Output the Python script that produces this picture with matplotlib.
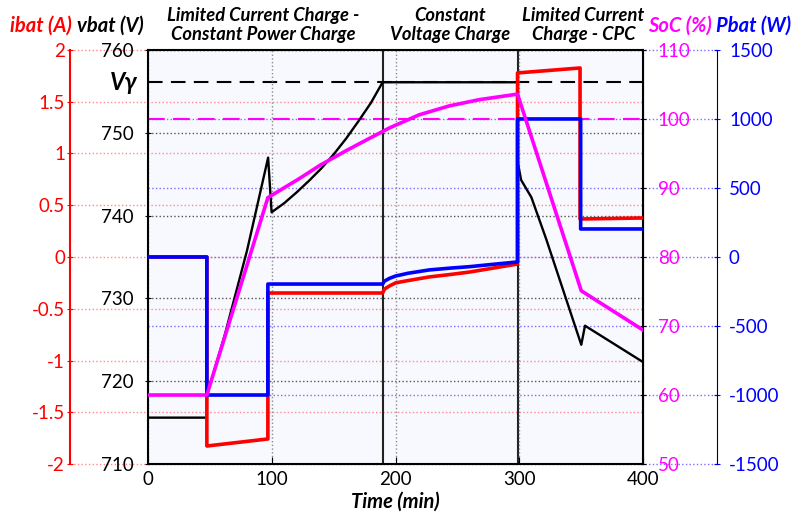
import numpy as np
import matplotlib
matplotlib.use("Agg")
import matplotlib.pyplot as plt
from matplotlib.transforms import blended_transform_factory as blend

plt.rcParams['font.family'] = ['Lato', 'DejaVu Sans']
plt.rcParams['axes.unicode_minus'] = False

# ---------- data ----------
t_v = [0, 47.5, 47.6, 62, 80, 97.0, 99.8, 110, 120, 130, 140, 150, 160, 170, 180, 189.5,
       298.5, 298.6, 301.4, 309.7, 321.8, 350, 353, 400]
vbat = [715.6, 715.6, 718.3, 725.6, 735.8, 747.0, 740.4, 741.5, 742.8, 744.2, 745.7, 747.4,
        749.3, 751.4, 753.6, 756.1,
        756.1, 746.5, 744.3, 742.2, 737.1, 724.4, 726.7, 722.3]

t_i = [0, 47.5, 47.5, 96.8, 96.8, 189.5, 191, 195, 200, 210, 227, 245, 260, 280, 298.5,
       298.5, 349, 349, 400]
ibat = [0, 0, -1.826, -1.758, -0.348, -0.348, -0.31, -0.28, -0.25, -0.228, -0.193, -0.168,
        -0.145, -0.105, -0.068, 1.778, 1.826, 0.367, 0.377]

t_p = [0, 47.5, 47.5, 96.8, 96.8, 189.5, 191, 195, 200, 210, 227, 245, 260, 280, 298.5,
       298.5, 349.5, 349.5, 400]
pbat = [0, 0, -1000, -1000, -196, -196, -175, -155, -138, -118, -94, -80, -70, -52, -36,
        1000, 1000, 203, 203]

t_s = [0, 47.5, 96.8, 122.6, 139, 160, 179, 195, 219, 243.5, 267.7, 298.5, 350, 400]
soc = [60, 60, 88.6, 91.4, 93.3, 95.4, 97.2, 98.7, 100.6, 101.9, 102.8, 103.6, 75.1, 69.4]

V_GAMMA = 756.1
SOC_MAX = 100
phase_edges = [189.5, 298.5]
phases = ["Limited Current Charge -\nConstant Power Charge",
          "Constant\nVoltage Charge",
          "Limited Current\nCharge - CPC"]

i_ticks = np.arange(-2, 2.01, 0.5)
v_ticks = np.arange(710, 761, 10)
s_ticks = np.arange(50, 111, 10)
p_ticks = np.arange(-1500, 1501, 500)

RED, BLUE, MAG = "#ff0000", "#0000ff", "#ff00ff"
TICK_FS = 13.5

fig = plt.figure(figsize=(7.96, 5.15), dpi=100)
ax = fig.add_axes([0.186, 0.099, 0.622, 0.804])
ax.set_facecolor("#f7f9fe")
ax.set_xlim(0, 400); ax.set_ylim(710, 760)

axI = ax.twinx(); axP = ax.twinx(); axS = ax.twinx()
axI.set_ylim(-2, 2); axS.set_ylim(50, 110); axP.set_ylim(-1500, 1500)

# red axis on far left
for s in ["right", "top", "bottom"]:
    axI.spines[s].set_visible(False)
axI.spines["left"].set_position(("axes", -0.158))
axI.spines["left"].set_color(RED); axI.spines["left"].set_linewidth(1.5)
axI.yaxis.set_ticks_position("left")
axI.set_yticks(i_ticks, [f"{v:g}" for v in i_ticks])
axI.tick_params(axis="y", colors=RED, labelsize=TICK_FS, direction="inout", length=5, pad=1)

# blue axis on far right
for s in ["left", "top", "bottom"]:
    axP.spines[s].set_visible(False)
axP.spines["right"].set_position(("axes", 1.1495))
axP.spines["right"].set_color("#000033")
axP.set_yticks(p_ticks, [f"{v:g}" for v in p_ticks])
axP.tick_params(axis="y", colors=BLUE, labelsize=TICK_FS, direction="inout", length=5, pad=6)

# SoC on plot's right edge
for s in ["left", "top", "bottom"]:
    axS.spines[s].set_visible(False)
axS.set_yticks(s_ticks, [f"{v:g}" for v in s_ticks])
axS.tick_params(axis="y", labelcolor=MAG, color="k", labelsize=TICK_FS, direction="inout", length=5, pad=8)

# vbat / time on main axis
for s in ax.spines.values():
    s.set_linewidth(1.5)
ax.set_yticks(v_ticks, [f"{v:g}" for v in v_ticks])
ax.set_xticks([0, 100, 200, 300, 400])
ax.tick_params(axis="y", labelsize=TICK_FS, direction="inout", length=5, pad=8)
ax.tick_params(axis="x", labelsize=TICK_FS, direction="in", length=5, pad=5)

# ---------- grids ----------
ax.grid(axis="x", ls=":", color="#8c8c8c", lw=1)
for v in v_ticks:
    ax.axhline(v, ls=":", color="#555555", lw=1, zorder=0.5)
trI = blend(ax.transAxes, axI.transData)
for v in i_ticks:
    ax.plot([-0.158, 1], [v, v], transform=trI, ls=":", color="#ff8a8a", lw=1, clip_on=False, zorder=0.6)
trS = blend(ax.transAxes, axS.transData)
for v in s_ticks:
    ax.plot([0, 1.1495], [v, v], transform=trS, ls=":", color="#7a6cff", lw=1, clip_on=False, zorder=0.6)

# reference lines
ax.axhline(V_GAMMA, color="k", ls=(0, (7, 4)), lw=1.5, zorder=1)
ax.plot([0, 1], [SOC_MAX, SOC_MAX], transform=trS, color=MAG, ls=(0, (8, 4)), lw=1.5, zorder=1)
for e in phase_edges:
    ax.axvline(e, color="#222222", lw=1.5, zorder=1.2)

# ---------- series ----------
ax.plot(t_v, vbat, color="k", lw=1.7, zorder=2)
axI.plot(t_i, ibat, color=RED, lw=2.6)
axP.plot(t_p, pbat, color=BLUE, lw=2.6)
axS.plot(t_s, soc, color=MAG, lw=2.6)

# ---------- texts ----------
ax.text(-0.022, V_GAMMA, "Vγ", transform=blend(ax.transAxes, ax.transData),
        ha="right", va="center", fontsize=17, fontweight="bold", fontstyle="italic")
bold = dict(fontweight="bold", fontstyle="italic", fontsize=13.2)
for x, txt in zip([0.331, 0.566, 0.733], phases):
    fig.text(x, 0.951, txt, ha="center", va="center", linespacing=1.15, **bold)
lab = dict(ha="center", va="center", fontsize=14.5, fontweight="bold", fontstyle="italic")
fig.text(41 / 796, 1 - 26 / 515, "ibat (A)", color=RED, **lab)
fig.text(110 / 796, 1 - 26 / 515, "vbat (V)", color="k", **lab)
fig.text(680 / 796, 1 - 26 / 515, "SoC (%)", color=MAG, **lab)
fig.text(754 / 796, 1 - 26 / 515, "Pbat (W)", color=BLUE, **lab)
ax.set_xlabel("Time (min)", fontsize=14.5, fontweight="bold", fontstyle="italic", labelpad=3)

fig.savefig("out.png", dpi=100)
